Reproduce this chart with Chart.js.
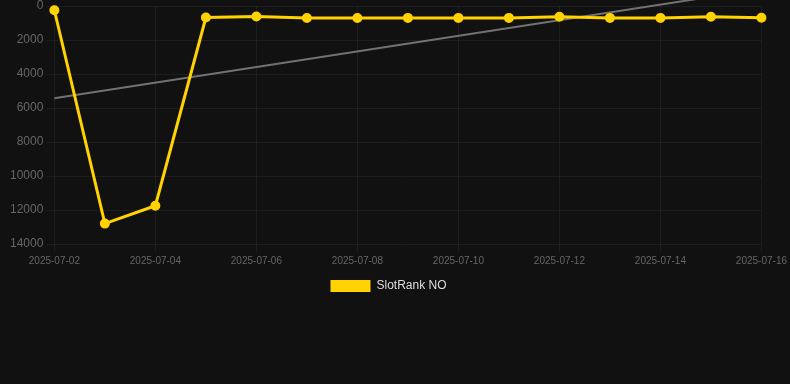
<!DOCTYPE html>
<html>
<head>
<meta charset="utf-8">
<script src="https://cdn.jsdelivr.net/npm/chart.js@4"></script>
<style>
  html, body { margin: 0; padding: 0; background: #111111; }
  #wrap { position: relative; width: 790px; height: 302px; }
</style>
</head>
<body>
<div id="wrap"><canvas id="c"></canvas></div>
<script>
const dates = ["2025-07-02","2025-07-03","2025-07-04","2025-07-05","2025-07-06","2025-07-07","2025-07-08","2025-07-09","2025-07-10","2025-07-11","2025-07-12","2025-07-13","2025-07-14","2025-07-15","2025-07-16"];
const rankValues = [250, 12800, 11750, 680, 620, 710, 710, 700, 700, 700, 630, 700, 700, 630, 690];
const trendDates = ["2025-07-02", "2025-07-16"];
const trendValues = [5420, -1000];
const yTicks = [0, 2000, 4000, 6000, 8000, 10000, 12000, 14000];
const seriesName = "SlotRank NO";

const idx = d => dates.indexOf(d);
const rankData = dates.map((d, i) => ({ x: i, y: rankValues[i] }));
const trendData = trendDates.map((d, i) => ({ x: idx(d), y: trendValues[i] }));

Chart.defaults.font.family = "Arial, 'Liberation Sans', Helvetica, sans-serif";

const legendShift = {
  id: 'legendShift',
  afterLayout(chart) {
    const l = chart.legend;
    if (l) { l.left -= 10; l.right -= 10; if (l.adjustHitBoxes) l.adjustHitBoxes(); }
  }
};

new Chart(document.getElementById('c'), {
  type: 'line',
  plugins: [legendShift],
  data: {
    datasets: [
      {
        label: seriesName,
        data: rankData,
        borderColor: '#ffd200',
        backgroundColor: '#ffd200',
        borderWidth: 3,
        pointRadius: 4,
        pointBorderWidth: 2,
        pointBackgroundColor: '#ffd200',
        pointBorderColor: '#ffd200',
        tension: 0,
        clip: false,
        order: 1
      },
      {
        label: 'trend',
        data: trendData,
        borderColor: '#727272',
        borderWidth: 2,
        pointRadius: 0,
        fill: false,
        clip: false,
        order: 2
      }
    ]
  },
  options: {
    responsive: true,
    maintainAspectRatio: false,
    animation: false,
    layout: { autoPadding: false, padding: { top: 0, right: 0, left: 7, bottom: 0 } },
    plugins: {
      legend: {
        position: 'bottom',
        labels: {
          color: '#dddddd',
          font: { size: 12 },
          boxWidth: 40,
          boxHeight: 12,
          filter: item => item.text === seriesName,
          generateLabels: chart => Chart.defaults.plugins.legend.labels.generateLabels(chart).map(l => Object.assign(l, { lineWidth: 0, strokeStyle: 'rgba(0,0,0,0)' }))
        }
      },
      tooltip: { enabled: false }
    },
    scales: {
      x: {
        type: 'linear',
        min: 0,
        max: dates.length - 1,
        ticks: {
          stepSize: 2,
          color: '#666666',
          font: { size: 10 },
          maxRotation: 0,
          callback: v => dates[v] || ''
        },
        grid: { color: 'rgba(255,255,255,0.05)', tickLength: 8 },
        border: { display: false }
      },
      y: {
        reverse: true,
        min: 0,
        max: 14000,
        afterBuildTicks: axis => { axis.ticks = yTicks.map(v => ({ value: v })); },
        afterFit: s => { s.paddingTop = 6; },
        ticks: {
          color: '#666666',
          font: { size: 12 },
          padding: 3,
          callback: v => String(v)
        },
        grid: { color: 'rgba(255,255,255,0.05)', tickLength: 8 },
        border: { display: false }
      }
    }
  }
});
</script>
</body>
</html>
